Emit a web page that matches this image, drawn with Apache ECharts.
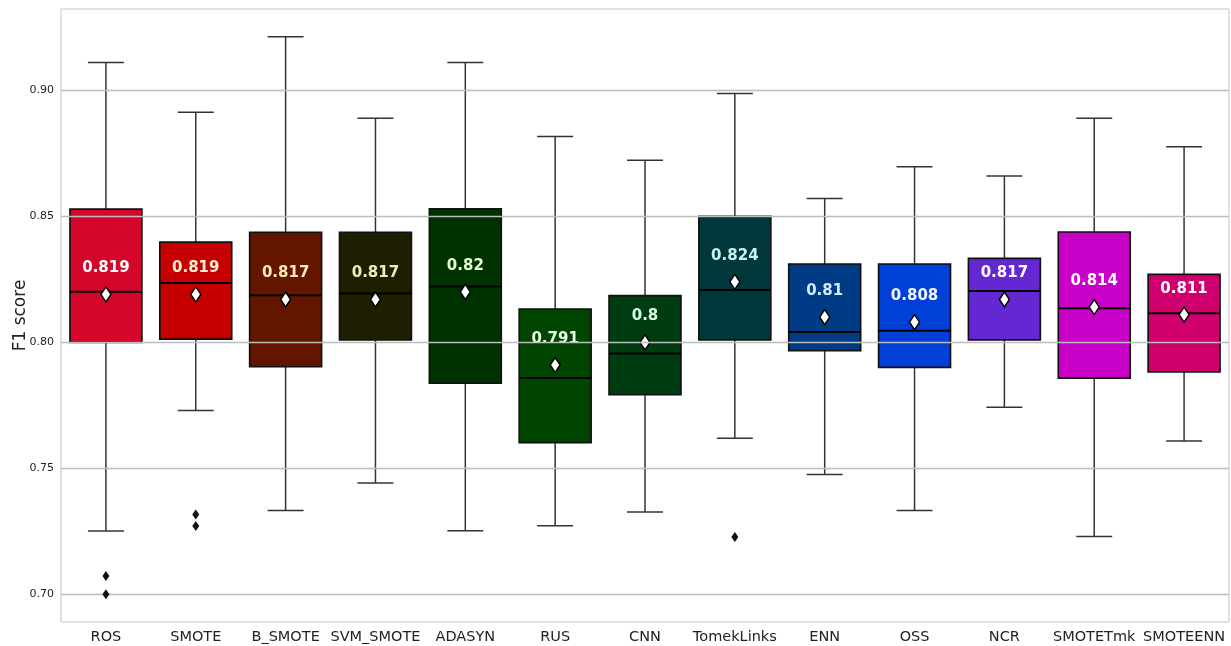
<!DOCTYPE html>
<html>
<head>
<meta charset="utf-8">
<title>F1 score by resampling method</title>
<script src="https://cdn.jsdelivr.net/npm/echarts@6/dist/echarts.min.js"></script>
<style>
  html, body { margin: 0; padding: 0; background: #fff; }
  #chart { width: 1231px; height: 646px; }
</style>
</head>
<body>
<div id="chart"></div>
<script>
// Resampling methods on the x axis
const categories = ['ROS', 'SMOTE', 'B_SMOTE', 'SVM_SMOTE', 'ADASYN', 'RUS', 'CNN',
  'TomekLinks', 'ENN', 'OSS', 'NCR', 'SMOTETmk', 'SMOTEENN'];

// Five-number summaries of F1 score per method
const lowWhisker  = [0.7251, 0.7729, 0.7333, 0.7442, 0.7252, 0.7272, 0.7327, 0.7619, 0.7475, 0.7333, 0.7742, 0.7229, 0.7608];
const q1          = [0.8000, 0.8013, 0.7903, 0.8010, 0.7838, 0.7602, 0.7792, 0.8010, 0.7967, 0.7901, 0.8010, 0.7858, 0.7883];
const median      = [0.8201, 0.8235, 0.8187, 0.8194, 0.8222, 0.7858, 0.7956, 0.8208, 0.8041, 0.8046, 0.8204, 0.8135, 0.8115];
const q3          = [0.8529, 0.8398, 0.8437, 0.8437, 0.8530, 0.8132, 0.8185, 0.8500, 0.8311, 0.8311, 0.8333, 0.8438, 0.8270];
const highWhisker = [0.9111, 0.8913, 0.9213, 0.8889, 0.9111, 0.8817, 0.8723, 0.8988, 0.8571, 0.8697, 0.8660, 0.8889, 0.8776];

// Mean F1 score per method (shown as diamond + label)
const means = [0.819, 0.819, 0.817, 0.817, 0.82, 0.791, 0.8, 0.824, 0.81, 0.808, 0.817, 0.814, 0.811];

// Outlying runs: [method index, F1 score]
const outliers = [[0, 0.7073], [0, 0.7000], [1, 0.7317], [1, 0.7271], [7, 0.7227]];

// Y axis tick values
const yTicks = [0.70, 0.75, 0.80, 0.85, 0.90];

// Box fill colours and matching mean-label colours
const boxColors = ['#d5062b', '#c60000', '#641500', '#1e1e00', '#003200', '#004500', '#003c12',
  '#00383c', '#003c86', '#0040d6', '#6428d2', '#c800c8', '#d0006e'];
const labelColors = ['#ffffff', '#fff0d2', '#ffecb4', '#eeeebe', '#e6ffcc', '#e6ffe6', '#d8ffe6',
  '#c8f2ec', '#d2ecff', '#f2f6ff', '#ffffff', '#ffffff', '#ffffff'];

const boxData = categories.map((c, i) => [i, lowWhisker[i], q1[i], median[i], q3[i], highWhisker[i]]);

function renderBox(params, api) {
  const i = api.value(0);
  const lo = api.coord([i, api.value(1)]);
  const b = api.coord([i, api.value(2)]);
  const m = api.coord([i, api.value(3)]);
  const t = api.coord([i, api.value(4)]);
  const hi = api.coord([i, api.value(5)]);
  const bw = api.size([1, 0])[0] * 0.8;
  const cx = lo[0];
  const half = bw / 2;
  const cap = bw / 4;
  const whiskerStyle = { stroke: '#333333', lineWidth: 1.5 };
  return {
    type: 'group',
    children: [
      { type: 'line', shape: { x1: cx, y1: hi[1], x2: cx, y2: t[1] }, style: whiskerStyle },
      { type: 'line', shape: { x1: cx, y1: b[1], x2: cx, y2: lo[1] }, style: whiskerStyle },
      { type: 'line', shape: { x1: cx - cap, y1: hi[1], x2: cx + cap, y2: hi[1] }, style: whiskerStyle },
      { type: 'line', shape: { x1: cx - cap, y1: lo[1], x2: cx + cap, y2: lo[1] }, style: whiskerStyle },
      {
        type: 'rect',
        shape: { x: cx - half, y: t[1], width: bw, height: b[1] - t[1] },
        style: { fill: boxColors[params.dataIndex], stroke: '#111111', lineWidth: 1.7 }
      },
      { type: 'line', shape: { x1: cx - half, y1: m[1], x2: cx + half, y2: m[1] }, style: { stroke: '#000000', lineWidth: 2 } }
    ]
  };
}

const chart = echarts.init(document.getElementById('chart'), null, { renderer: 'canvas' });

chart.setOption({
  backgroundColor: '#ffffff',
  animation: false,
  textStyle: { fontFamily: 'DejaVu Sans' },
  grid: {
    left: 61, top: 9, right: 2, bottom: 24,
    outerBoundsMode: 'none',
    containLabel: false,
    show: true, borderColor: '#c4c4c4', borderWidth: 1, backgroundColor: 'transparent'
  },
  xAxis: {
    type: 'category',
    data: categories,
    boundaryGap: true,
    axisLine: { show: false },
    axisTick: { show: false },
    splitLine: { show: false },
    axisLabel: { color: '#222222', fontSize: 14.5, margin: 8, interval: 0, fontFamily: 'DejaVu Sans' }
  },
  yAxis: {
    type: 'value',
    min: 0.689,
    max: 0.9323,
    name: 'F1 score',
    nameLocation: 'middle',
    nameGap: 32,
    nameMoveOverlap: false,
    nameTextStyle: { color: '#222222', fontSize: 17, fontFamily: 'DejaVu Sans' },
    axisLine: { show: false },
    axisTick: { show: false },
    splitLine: { show: false },
    axisLabel: {
      customValues: yTicks,
      color: '#222222', fontSize: 11, margin: 7,
      formatter: v => v.toFixed(2)
    }
  },
  series: [
    {
      // horizontal grid lines at the tick values
      type: 'line',
      data: [],
      z: 0,
      silent: true,
      markLine: {
        silent: true,
        symbol: 'none',
        label: { show: false },
        lineStyle: { color: '#bdbdbd', width: 1.3, type: 'solid' },
        data: yTicks.map(v => ({ yAxis: v }))
      }
    },
    {
      type: 'custom',
      renderItem: renderBox,
      data: boxData,
      encode: { x: 0, y: [1, 2, 3, 4, 5] },
      z: 2
    },
    {
      type: 'scatter',
      data: outliers,
      symbol: 'diamond',
      symbolSize: [7, 10],
      itemStyle: { color: '#111111', opacity: 1 },
      z: 5
    },
    {
      type: 'scatter',
      data: means.map((v, i) => ({
        value: [i, v],
        label: { color: labelColors[i] }
      })),
      symbol: 'diamond',
      symbolSize: [10, 15],
      itemStyle: { color: '#ffffff', borderColor: '#000000', borderWidth: 1.5, opacity: 1 },
      label: {
        show: true,
        position: 'inside',
        offset: [0, -26],
        fontSize: 15,
        fontWeight: 'bold',
        fontFamily: 'DejaVu Sans',
        opacity: 1,
        formatter: p => String(p.value[1])
      },
      z: 4
    }
  ]
});
</script>
</body>
</html>
